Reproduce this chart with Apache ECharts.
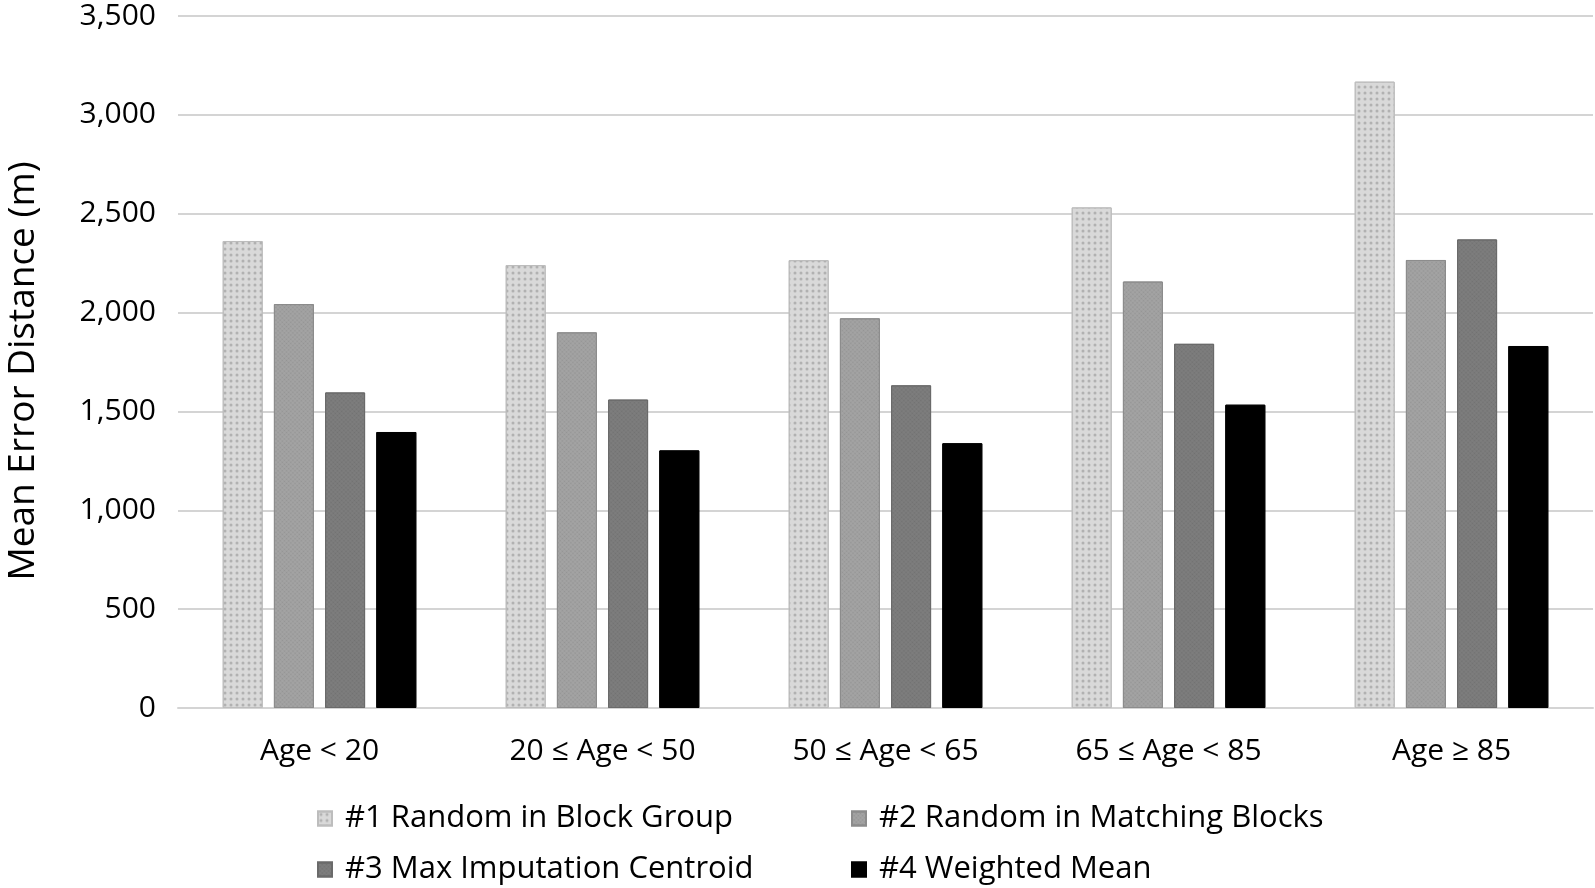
<!DOCTYPE html>
<html>
<head>
<meta charset="utf-8">
<script src="https://cdn.jsdelivr.net/npm/echarts@6/dist/echarts.min.js"></script>
<style>
html,body{margin:0;padding:0;background:#fff;}
#chart{width:1595px;height:888px;}
</style>
</head>
<body>
<div id="chart"></div>
<script>
const categories = ['Age < 20', '20 ≤ Age < 50', '50 ≤ Age < 65', '65 ≤ Age < 85', 'Age ≥ 85'];
const seriesNames = ['#1 Random in Block Group', '#2 Random in Matching Blocks', '#3 Max Imputation Centroid', '#4 Weighted Mean'];
const s1 = [2362, 2240, 2265, 2532, 3168];
const s2 = [2043, 1900, 1971, 2157, 2266];
const s3 = [1596, 1560, 1632, 1842, 2370];
const s4 = [1396, 1303, 1339, 1534, 1831];
const yTicks = [0, 500, 1000, 1500, 2000, 2500, 3000, 3500];

const values = [s1, s2, s3, s4];
const colors = ['#d9d9d9', '#a6a6a6', '#7f7f7f', '#000000'];
const borders = ['#bdbdbd', '#8c8c8c', '#6a6a6a', '#000000'];
const decals = [
  {symbol:'circle', symbolSize:0.5, color:'rgba(150,150,150,0.6)', dashArrayX:[6,0], dashArrayY:[6,0], rotation:0},
  {symbol:'rect', symbolSize:0.6, color:'rgba(130,130,130,0.5)', dashArrayX:[3,0], dashArrayY:[3,0], rotation:0.785},
  {symbol:'rect', symbolSize:0.6, color:'rgba(100,100,100,0.5)', dashArrayX:[3,0], dashArrayY:[3,0], rotation:0.785},
  null
];
const fontFam = '"Open Sans", "Noto Sans", sans-serif';

const chart = echarts.init(document.getElementById('chart'), null, {renderer:'canvas'});

const legendPos = [[312, 798], [846, 798], [312, 849], [846, 849]];
const legends = seriesNames.map((n, i) => ({
  data: [n],
  left: legendPos[i][0],
  top: legendPos[i][1],
  itemWidth: 14,
  itemHeight: 14,
  itemGap: 0,
  icon: 'rect',
  textStyle: {fontSize: 31, color: '#000', fontFamily: fontFam, padding: [0,0,0,8]},
  selectedMode: false
}));

chart.setOption({
  aria: {enabled: true, decal: {show: true}},
  animation: false,
  legend: legends,
  grid: {left: 178, right: 2, top: 16, bottom: 180, containLabel: false, outerBoundsMode: 'none'},
  xAxis: {
    type: 'category',
    data: categories,
    axisLine: {show: true, lineStyle: {color: '#d4d4d4', width: 2}},
    axisTick: {show: false},
    axisLabel: {fontSize: 30, color: '#000', fontFamily: fontFam, margin: 28}
  },
  yAxis: {
    type: 'value',
    min: yTicks[0],
    max: yTicks[yTicks.length - 1],
    interval: 500,
    name: 'Mean Error Distance (m)',
    nameLocation: 'middle',
    nameGap: 136,
    nameTextStyle: {fontSize: 37, color: '#000', fontFamily: fontFam, padding: [0, 18, 0, 0]},
    axisLine: {show: false},
    axisTick: {show: false},
    splitLine: {lineStyle: {color: '#d4d4d4', width: 2}},
    axisLabel: {
      fontSize: 30, color: '#000', fontFamily: fontFam, margin: 22,
      formatter: v => v.toLocaleString('en-US')
    }
  },
  series: seriesNames.map((n, i) => ({
    name: n,
    type: 'bar',
    data: values[i],
    barWidth: 40,
    barGap: '28%',
    itemStyle: Object.assign({color: colors[i], borderColor: borders[i], borderWidth: 1}, decals[i] ? {decal: decals[i]} : {decal: {symbol: 'none'}})
  }))
});
</script>
</body>
</html>
